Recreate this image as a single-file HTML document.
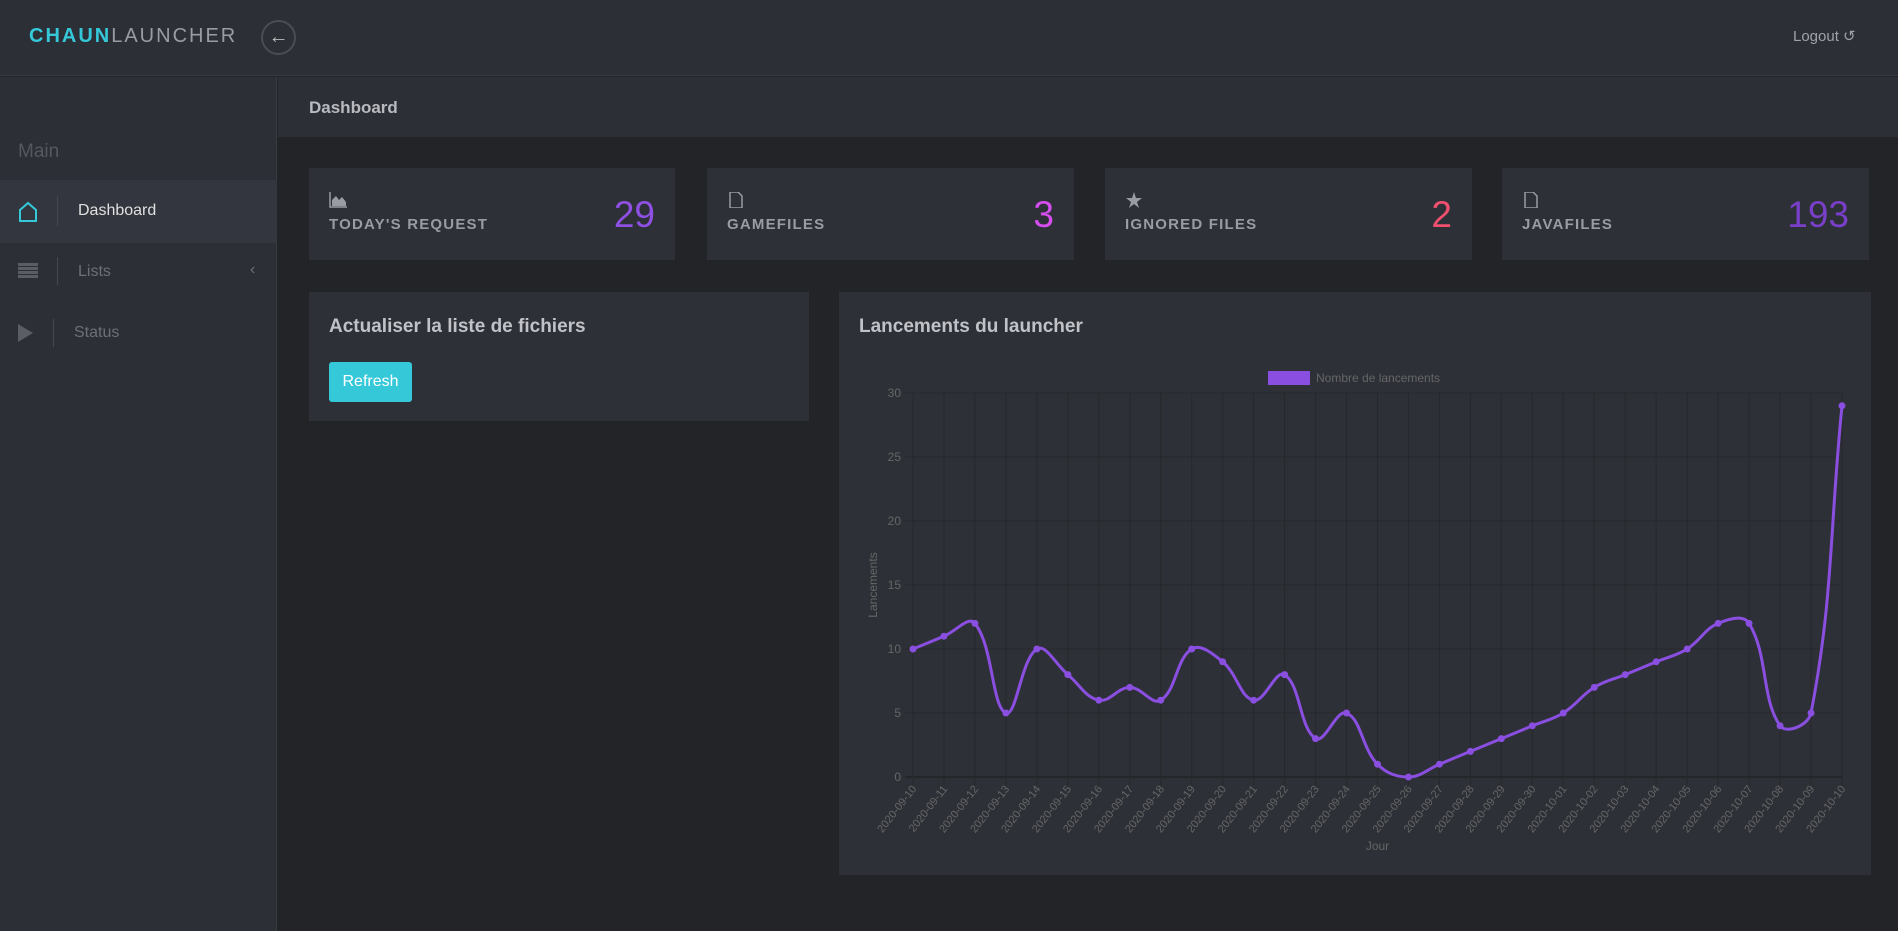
<!DOCTYPE html>
<html><head><meta charset="utf-8"><style>
*{box-sizing:border-box;margin:0;padding:0}
body{width:1898px;height:931px;background:#222428;font-family:"Liberation Sans",sans-serif;position:relative;overflow:hidden;color:#c8c8c8}
.abs{position:absolute}
#header{left:0;top:0;width:1898px;height:76px;background:#2c2f35;border-bottom:1px solid #383b42}
#sidebar{left:0;top:77px;width:277px;height:854px;background:#2c2f35;border-right:1px solid #383b42}
#crumb{left:278px;top:77px;width:1620px;height:60px;background:#2c2f35}
.card{background:#2d3036}
.clabel{position:absolute;left:20px;top:48px;font-size:15px;font-weight:bold;letter-spacing:1.2px;color:#9a9ca3}
.cnum{position:absolute;right:20px;top:26px;font-size:37px;}
.cicon{position:absolute;left:20px;top:24px;width:18px;height:16px}
</style></head><body>
<div id="header" class="abs">
  <div class="abs" style="left:29px;top:25px;font-size:20px;letter-spacing:2px"><b style="color:#34c8d8">CHAUN</b><span style="color:#9a9ca3">LAUNCHER</span></div>
  <div class="abs" style="left:261px;top:20px;width:35px;height:35px;border:2px solid #4a4d55;border-radius:50%;color:#bbb;text-align:center;line-height:30px;font-size:20px">&#8592;</div>
  <div class="abs" style="left:1793px;top:27px;font-size:15px;color:#a0a2a8">Logout &#8634;</div>
</div>
<div id="sidebar" class="abs">
  <div class="abs" style="left:18px;top:64px;font-size:19px;color:#55585f">Main</div>
  <div class="abs" style="left:0;top:103px;width:277px;height:63px;background:#33363e">
    <svg class="abs" style="left:18px;top:21px" width="20" height="22"><path d="M2 9 L10 2 L18 9 L18 20 L2 20 Z" fill="none" stroke="#34c8d8" stroke-width="2"/></svg>
    <div class="abs" style="left:57px;top:16px;width:1px;height:30px;background:#44474e"></div>
    <div class="abs" style="left:78px;top:22px;font-size:16px;color:#e0e0e0">Dashboard</div>
  </div>
  <div class="abs" style="left:0;top:166px;width:277px;height:60px">
    <div class="abs" style="left:18px;top:20px;width:20px;height:15px;background:repeating-linear-gradient(#5a5d64 0 3px,transparent 3px 4px)"></div>
    <div class="abs" style="left:57px;top:14px;width:1px;height:28px;background:#44474e"></div>
    <div class="abs" style="left:78px;top:20px;font-size:16px;color:#6d7076">Lists</div>
    <div class="abs" style="left:250px;top:18px;font-size:16px;color:#6d7076">&#8249;</div>
  </div>
  <div class="abs" style="left:0;top:226px;width:277px;height:60px">
    <div class="abs" style="left:18px;top:21px;width:0;height:0;border-left:15px solid #5a5d64;border-top:9px solid transparent;border-bottom:9px solid transparent"></div>
    <div class="abs" style="left:53px;top:16px;width:1px;height:28px;background:#44474e"></div>
    <div class="abs" style="left:74px;top:21px;font-size:16px;color:#6d7076">Status</div>
  </div>
</div>
<div id="crumb" class="abs"><div class="abs" style="left:31px;top:21px;font-size:17px;font-weight:bold;color:#b8bac0">Dashboard</div></div>

<div class="abs card" style="left:309px;top:168px;width:366px;height:92px">
  <svg class="cicon" viewBox="0 0 18 16"><path d="M1 0V15H18" stroke="#9a9ca3" fill="none" stroke-width="1.5"/><path d="M3 14L3 8L7 4L10 8L13 5L17 10L17 14Z" fill="#9a9ca3"/></svg>
  <div class="clabel">TODAY'S REQUEST</div><div class="cnum" style="color:#8e50e3">29</div></div>
<div class="abs card" style="left:707px;top:168px;width:367px;height:92px">
  <svg class="cicon" viewBox="0 0 18 16"><path d="M3 0H11L15 4V16H3Z" stroke="#9a9ca3" fill="none" stroke-width="1.5"/></svg>
  <div class="clabel">GAMEFILES</div><div class="cnum" style="color:#d64df0">3</div></div>
<div class="abs card" style="left:1105px;top:168px;width:367px;height:92px">
  <svg class="cicon" viewBox="0 0 18 16"><path d="M9 0L11 6L17 6L12 10L14 16L9 12L4 16L6 10L1 6L7 6Z" fill="#9a9ca3"/></svg>
  <div class="clabel">IGNORED FILES</div><div class="cnum" style="color:#f0506e">2</div></div>
<div class="abs card" style="left:1502px;top:168px;width:367px;height:92px">
  <svg class="cicon" viewBox="0 0 18 16"><path d="M3 0H11L15 4V16H3Z" stroke="#9a9ca3" fill="none" stroke-width="1.5"/></svg>
  <div class="clabel">JAVAFILES</div><div class="cnum" style="color:#7a3fc9">193</div></div>

<div class="abs card" style="left:309px;top:292px;width:500px;height:129px">
  <div class="abs" style="left:20px;top:24px;font-size:19px;font-weight:bold;color:#c0c2c8">Actualiser la liste de fichiers</div>
  <div class="abs" style="left:20px;top:70px;width:83px;height:40px;background:#34c8d8;border-radius:3px;color:#fff;font-size:16px;text-align:center;line-height:40px">Refresh</div>
</div>

<div class="abs card" style="left:839px;top:292px;width:1032px;height:583px">
  <div class="abs" style="left:20px;top:24px;font-size:19px;font-weight:bold;color:#c0c2c8">Lancements du launcher</div>
</div>
<svg id="chart" class="abs" style="left:0;top:0" width="1898" height="931"></svg>
<script>
const categories=["2020-09-10","2020-09-11","2020-09-12","2020-09-13","2020-09-14","2020-09-15","2020-09-16","2020-09-17","2020-09-18","2020-09-19","2020-09-20","2020-09-21","2020-09-22","2020-09-23","2020-09-24","2020-09-25","2020-09-26","2020-09-27","2020-09-28","2020-09-29","2020-09-30","2020-10-01","2020-10-02","2020-10-03","2020-10-04","2020-10-05","2020-10-06","2020-10-07","2020-10-08","2020-10-09","2020-10-10"];
const values=[10,11,12,5,10,8,6,7,6,10,9,6,8,3,5,1,0,1,2,3,4,5,7,8,9,10,12,12,4,5,29];
const yTicks=[0,5,10,15,20,25,30];
const NS="http://www.w3.org/2000/svg";
const svg=document.getElementById('chart');
const X0=913,X1=1842,Y0=777,Y1=393;
const xs=i=>X0+(X1-X0)*i/(categories.length-1);
const ys=v=>Y0-(Y0-Y1)*v/30;
function mk(t,a,txt){const e=document.createElementNS(NS,t);for(const k in a)e.setAttribute(k,a[k]);if(txt!==undefined)e.textContent=txt;svg.appendChild(e);return e;}
yTicks.forEach(t=>{
  const l=mk('line',{x1:X0-8,x2:X1,y1:ys(t),y2:ys(t),stroke:t===0?'#1a1b1e':'#26282c','stroke-width':1});
  
  
  const tx=mk('text',{x:X0-12,y:ys(t)+4,'text-anchor':'end','font-size':12,fill:'#666'},t);
  
  
});
categories.forEach((c,i)=>{
  const l=mk('line',{x1:xs(i),x2:xs(i),y1:Y1,y2:Y0+8,stroke:'#26282c','stroke-width':1});
  
  
  const tx=mk('text',{x:xs(i)+4,y:Y0+12,'text-anchor':'end','font-size':11,fill:'#666',transform:`rotate(-52 ${xs(i)+4} ${Y0+12})`},c);
  
  
});
const yt=mk('text',{x:0,y:0,'text-anchor':'middle','font-size':12,fill:'#666',transform:`translate(877 ${(Y0+Y1)/2}) rotate(-90)`},'Lancements');


const xt=mk('text',{x:(X0+X1)/2,y:850,'text-anchor':'middle','font-size':12,fill:'#666'},'Jour');


const lb=mk('rect',{x:1268,y:371,width:42,height:14,fill:'#8a4fe0'});


const lt=mk('text',{x:1316,y:382,'font-size':12,fill:'#666'},'Nombre de lancements');


const P=values.map((v,i)=>({x:xs(i),y:ys(v)}));
let d=`M${P[0].x},${P[0].y}`;
const cps=P.map((p,i)=>{
  const a=P[Math.max(0,i-1)],b=P[Math.min(P.length-1,i+1)];
  const d01=Math.hypot(p.x-a.x,p.y-a.y),d12=Math.hypot(b.x-p.x,b.y-p.y);
  let fa=d01/(d01+d12)||0,fb=d12/(d01+d12)||0;fa*=0.4;fb*=0.4;
  return {px:p.x-fa*(b.x-a.x),py:p.y-fa*(b.y-a.y),nx:p.x+fb*(b.x-a.x),ny:p.y+fb*(b.y-a.y)};
});
for(let i=1;i<P.length;i++){d+=` C${cps[i-1].nx},${cps[i-1].ny} ${cps[i].px},${cps[i].py} ${P[i].x},${P[i].y}`;}
const ln=mk('path',{d:d,fill:'none',stroke:'#8a4fe0','stroke-width':3});


P.forEach(p=>{
  const c=mk('circle',{cx:p.x,cy:p.y,r:3.5,fill:'#8a4fe0'});
  
  
});
</script>
</body></html>
